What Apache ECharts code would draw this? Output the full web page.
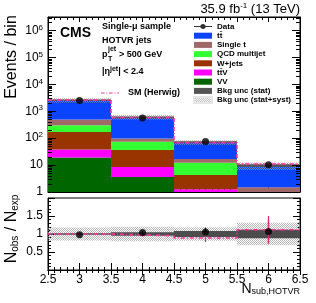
<!DOCTYPE html>
<html><head><meta charset="utf-8">
<script src="https://cdn.jsdelivr.net/npm/echarts@6/dist/echarts.min.js"></script>
<style>html,body{margin:0;padding:0;background:#fff}#c{width:316px;height:303px}</style>
</head><body><div id="c"></div><script>
// ---- data ----
const binCenters = [3, 4, 5, 6];
const binWidth = 1;
// stacked backgrounds, bottom -> top (events / bin)
const vv      = [19.3, 3.6, 0.6, 0.05];
const ttv     = [18.7, 4.9, 0.66, 0.1];
const wjets   = [133, 27.5, 3.0, 0.35];
const qcd     = [131, 38, 7.9, 0.5];
const singleT = [189, 23, 4.5, 0.5];
const ttbar   = [2069, 503, 54, 8.1];
const dataEvents = [2500, 560, 75, 10.3];
const herwig  = [2600, 585, 68, 11];
// relative background uncertainties
const statFrac = [0.015, 0.05, 0.08, 0.12];
const totFrac  = [0.18, 0.2, 0.19, 0.31];
// ratio panel
const ratioData = [0.98, 1.045, 1.055, 1.07];
const ratioDataErr = [0.02, 0.045, 0.12, 0.33];
const ratioHerwig = [1.0, 0.95, 0.89, 1.12];
const ratioHerwigErr = [0.02, 0.03, 0.11, 0.38];
const xTickLabels = ['2.5','3','3.5','4','4.5','5','5.5','6','6.5'];
const ratioTickLabels = ['0.5','1','1.5'];

const FONT = '"Liberation Sans", Arial, sans-serif';
const Y_MIN = 1, Y_MAX = Math.pow(10, 6.5);
const X_MIN = 2.5, X_MAX = 6.5;

// hatch pattern for the stat+syst band
const pc = document.createElement('canvas'); pc.width = 2; pc.height = 2;
const pg = pc.getContext('2d');
pg.fillStyle = 'rgba(160,160,160,0.75)'; pg.fillRect(0, 0, 1, 1); pg.fillRect(1, 1, 1, 1);
const hatch = {image: pc, repeat: 'repeat'};

const comps = [
  {name: 'VV', vals: vv, color: '#006600'},
  {name: 'tt\u0304V', vals: ttv, color: '#ff00ff'},
  {name: 'W+jets', vals: wjets, color: '#993300'},
  {name: 'QCD multijet', vals: qcd, color: '#33ff33'},
  {name: 'Single t', vals: singleT, color: '#a06868'},
  {name: 'tt\u0304', vals: ttbar, color: '#0a44ff'}
];

function rectRender(fill, clampMin) {
  return function (params, api) {
    let b = api.value(2), t = api.value(3);
    if (clampMin != null) { b = Math.max(b, clampMin); t = Math.max(t, clampMin); }
    const p1 = api.coord([api.value(0), t]);
    const p2 = api.coord([api.value(1), b]);
    return {type: 'rect', shape: {x: p1[0], y: p1[1], width: p2[0] - p1[0], height: p2[1] - p1[1]}, style: {fill: fill}};
  };
}
function thinRect(fill, minH) {
  return function (params, api) {
    const p1 = api.coord([api.value(0), api.value(3)]);
    const p2 = api.coord([api.value(1), api.value(2)]);
    const h = Math.max(p2[1] - p1[1], minH);
    const yc = (p1[1] + p2[1]) / 2;
    return {type: 'rect', shape: {x: p1[0], y: yc - h / 2, width: p2[0] - p1[0], height: h}, style: {fill: fill}};
  };
}

const series = [];
const cum = binCenters.map(() => 0);
comps.forEach(c => {
  const items = binCenters.map((x, i) => {
    const b = cum[i]; cum[i] += c.vals[i];
    return [x - binWidth / 2, x + binWidth / 2, b, cum[i]];
  });
  series.push({type: 'custom', name: c.name, xAxisIndex: 0, yAxisIndex: 0, itemStyle: {color: c.color},
    encode: {x: [0, 1], y: 3}, renderItem: rectRender(c.color, Y_MIN), data: items, clip: true, z: 2});
});
const total = cum.slice();
series.push({type: 'custom', name: 'Bkg unc (stat+syst)', xAxisIndex: 0, yAxisIndex: 0,
  itemStyle: {color: hatch, borderColor: '#e6e6e6', borderWidth: 0.5}, encode: {x: [0, 1], y: 3},
  renderItem: rectRender(hatch, Y_MIN),
  data: binCenters.map((x, i) => [x - binWidth / 2, x + binWidth / 2, total[i] * (1 - totFrac[i]), total[i] * (1 + totFrac[i])]), z: 3});
series.push({type: 'custom', name: 'Bkg unc (stat)', xAxisIndex: 0, yAxisIndex: 0,
  itemStyle: {color: '#555555'}, encode: {x: [0, 1], y: 3}, renderItem: thinRect('#555555', 1.6),
  data: binCenters.map((x, i) => [x - binWidth / 2, x + binWidth / 2, total[i] * (1 - statFrac[i]), total[i] * (1 + statFrac[i])]), z: 4});
const herwigPts = [];
binCenters.forEach((x, i) => { herwigPts.push([x - binWidth / 2, herwig[i]]); herwigPts.push([x + binWidth / 2, herwig[i]]); });
series.push({type: 'line', name: 'SM (Herwig)', xAxisIndex: 0, yAxisIndex: 0, data: herwigPts,
  symbol: 'none', lineStyle: {color: '#ff3399', width: 1.6, type: [4, 2, 1, 2]}, itemStyle: {color: '#ff3399'}, z: 5});
series.push({type: 'scatter', name: 'Data', xAxisIndex: 0, yAxisIndex: 0,
  data: binCenters.map((x, i) => [x, dataEvents[i]]), symbolSize: 7, itemStyle: {color: '#000'}, z: 6});

// log-axis tick marks (decoration on both sides)
const logTickVals = [];
for (let n = 0; n < 7; n++) for (let k = 1; k < 10; k++) { const v = k * Math.pow(10, n); if (v <= Y_MAX) logTickVals.push([X_MIN, v, k === 1 ? 1 : 0]); }
series.push({type: 'custom', xAxisIndex: 0, yAxisIndex: 0, silent: true, z: 10, encode: {x: 0, y: 1},
  renderItem: function (params, api) {
    const cs = params.coordSys;
    const y = Math.round(api.coord([X_MIN, api.value(1)])[1]) + 0.5;
    const L = api.value(2) ? 8 : 4;
    return {type: 'group', children: [
      {type: 'line', shape: {x1: cs.x, y1: y, x2: cs.x + L, y2: y}, style: {stroke: '#000', lineWidth: 1}},
      {type: 'line', shape: {x1: cs.x + cs.width - L, y1: y, x2: cs.x + cs.width, y2: y}, style: {stroke: '#000', lineWidth: 1}}
    ]};
  }, data: logTickVals});

// ---- ratio panel ----
series.push({type: 'custom', xAxisIndex: 2, yAxisIndex: 2, encode: {x: [0, 1], y: 3},
  renderItem: rectRender(hatch),
  data: binCenters.map((x, i) => [x - binWidth / 2, x + binWidth / 2, 1 - totFrac[i], 1 + totFrac[i]]), z: 2});
series.push({type: 'custom', xAxisIndex: 2, yAxisIndex: 2, encode: {x: [0, 1], y: 3}, renderItem: thinRect('#4d4d4d', 1.5),
  data: binCenters.map((x, i) => [x - binWidth / 2, x + binWidth / 2, 1 - statFrac[i], 1 + statFrac[i]]), z: 3});
function errRender(color, w) {
  return function (params, api) {
    const pTop = api.coord([api.value(0), api.value(1) + api.value(2)]);
    const pBot = api.coord([api.value(0), api.value(1) - api.value(2)]);
    return {type: 'line', shape: {x1: pTop[0], y1: pTop[1], x2: pBot[0], y2: pBot[1]}, style: {stroke: color, lineWidth: w}};
  };
}
series.push({type: 'custom', xAxisIndex: 2, yAxisIndex: 2, encode: {x: 0, y: 1}, renderItem: errRender('#000', 1.2),
  data: binCenters.map((x, i) => [x, ratioData[i], ratioDataErr[i]]), z: 4});
const herwigRatioPts = [];
binCenters.forEach((x, i) => { herwigRatioPts.push([x - binWidth / 2, ratioHerwig[i]]); herwigRatioPts.push([x + binWidth / 2, ratioHerwig[i]]); });
series.push({type: 'line', xAxisIndex: 2, yAxisIndex: 2, data: herwigRatioPts, symbol: 'none',
  lineStyle: {color: '#ff3399', width: 1.6, type: [4, 2, 1, 2]}, z: 5});
series.push({type: 'custom', xAxisIndex: 2, yAxisIndex: 2, encode: {x: 0, y: 1}, renderItem: errRender('#e0267a', 1.2),
  data: binCenters.map((x, i) => [x, ratioHerwig[i], ratioHerwigErr[i]]), z: 5});
series.push({type: 'scatter', xAxisIndex: 2, yAxisIndex: 2,
  data: binCenters.map((x, i) => [x, ratioData[i]]), symbolSize: 7, itemStyle: {color: '#000'}, z: 6});

const axisLine = {show: true, lineStyle: {color: '#000', width: 1}};
function xAx(grid, pos, labels) {
  return {type: 'value', gridIndex: grid, position: pos, min: X_MIN, max: X_MAX, interval: 0.5,
    axisLine: axisLine, splitLine: {show: false},
    axisTick: {show: true, inside: true, length: pos === 'bottom' ? 7 : 5, lineStyle: {color: '#000'}},
    minorTick: {show: true, splitNumber: 5, length: 3, lineStyle: {color: '#000'}},
    axisLabel: labels ? {show: true, margin: 4, color: '#000', fontFamily: FONT, fontSize: 12,
      formatter: v => xTickLabels.find(s => Math.abs(parseFloat(s) - v) < 1e-6) || ''} : {show: false}};
}
const supRich = {b: {fontSize: 12, fontFamily: FONT, color: '#000'}, s: {fontSize: 8, fontFamily: FONT, color: '#000', verticalAlign: 'top', padding: [0, 0, 6, 0]}};
const annot = {fontFamily: FONT, fontSize: 9, fontWeight: 'bold', fill: '#000'};

const option = {
  animation: false,
  backgroundColor: '#fff',
  grid: [
    {left: 48, right: 16, top: 17, height: 175, show: true, borderColor: '#000', borderWidth: 1},
    {left: 48, right: 16, top: 198, height: 72, show: true, borderColor: '#000', borderWidth: 1}
  ],
  xAxis: [xAx(0, 'bottom', false), xAx(0, 'top', false), xAx(1, 'bottom', true), xAx(1, 'top', false)],
  yAxis: [
    {type: 'log', gridIndex: 0, min: Y_MIN, max: Y_MAX, position: 'left', axisLine: axisLine,
      splitLine: {show: false}, axisTick: {show: false}, minorTick: {show: false},
      axisLabel: {margin: 5, color: '#000', fontFamily: FONT, fontSize: 12, rich: supRich,
        formatter: v => { const n = Math.round(Math.log10(v)); if (Math.abs(Math.log10(v) - n) > 1e-6) return ''; return n === 0 ? '{b|1}' : n === 1 ? '{b|10}' : '{b|10}{s|' + n + '}'; }}},
    {type: 'log', gridIndex: 0, min: Y_MIN, max: Y_MAX, position: 'right', axisLine: axisLine,
      splitLine: {show: false}, axisTick: {show: false}, axisLabel: {show: false}},
    {type: 'value', gridIndex: 1, min: 0, max: 2, interval: 0.5, position: 'left', axisLine: axisLine,
      splitLine: {show: false}, axisTick: {show: true, inside: true, length: 7, lineStyle: {color: '#000'}},
      minorTick: {show: true, splitNumber: 5, length: 3, lineStyle: {color: '#000'}},
      axisLabel: {margin: 5, color: '#000', fontFamily: FONT, fontSize: 12,
        formatter: v => ratioTickLabels.find(s => Math.abs(parseFloat(s) - v) < 1e-6) || ''}},
    {type: 'value', gridIndex: 1, min: 0, max: 2, interval: 0.5, position: 'right', axisLine: axisLine,
      splitLine: {show: false}, axisTick: {show: true, inside: true, length: 7, lineStyle: {color: '#000'}},
      minorTick: {show: true, splitNumber: 5, length: 3, lineStyle: {color: '#000'}}, axisLabel: {show: false}}
  ],
  legend: [
    {orient: 'vertical', left: 193, top: 22, padding: 0, itemWidth: 18, itemHeight: 6, itemGap: 0.2,
      textStyle: {fontFamily: FONT, fontSize: 8, fontWeight: 'bold', color: '#000', lineHeight: 9},
      selectedMode: false,
      data: [
        {name: 'Data', icon: 'path://M0,2.5H6.2A3,3 0 0 1 11.8,2.5H18V3.5H11.8A3,3 0 0 1 6.2,3.5H0Z'},
        {name: 'tt\u0304', icon: 'rect'}, {name: 'Single t', icon: 'rect'}, {name: 'QCD multijet', icon: 'rect'},
        {name: 'W+jets', icon: 'rect'}, {name: 'tt\u0304V', icon: 'rect'}, {name: 'VV', icon: 'rect'},
        {name: 'Bkg unc (stat)', icon: 'rect'}, {name: 'Bkg unc (stat+syst)', icon: 'rect'}
      ]},
    {orient: 'vertical', left: 101, top: 88, padding: 0, itemWidth: 18, itemHeight: 1.6, selectedMode: false,
      textStyle: {fontFamily: FONT, fontSize: 9, fontWeight: 'bold', color: '#000', lineHeight: 10, padding: [0, 0, 0, 4]},
      data: [{name: 'SM (Herwig)', icon: 'path://M0,0H4V1H0Z M6,0H7V1H6Z M9,0H13V1H9Z M15,0H16V1H15Z M18,0H20V1H18Z'}]}
  ],
  graphic: [
    {type: 'text', right: 16, top: 2, style: {text: '35.9 fb{s|-1} (13 TeV)', fontFamily: FONT, fontSize: 13, fill: '#000',
      rich: {s: {fontSize: 8, fontFamily: FONT, verticalAlign: 'top', padding: [0, 0, 7, 0]}}}},
    {type: 'text', left: 60, top: 26, style: {text: 'CMS', fontFamily: FONT, fontSize: 14, fontWeight: 'bold', fill: '#000'}},
    {type: 'text', left: 102, top: 22, style: Object.assign({text: 'Single-\u03bc sample'}, annot)},
    {type: 'text', left: 102, top: 36, style: Object.assign({text: 'HOTVR jets'}, annot)},
    {type: 'text', left: 102, top: 50, style: Object.assign({text: 'p'}, annot)},
    {type: 'text', left: 108, top: 56, style: Object.assign({}, annot, {text: 'T', fontSize: 7})},
    {type: 'text', left: 108, top: 46, style: Object.assign({}, annot, {text: 'jet', fontSize: 7})},
    {type: 'text', left: 119, top: 50, style: Object.assign({text: '> 500 GeV'}, annot)},
    {type: 'text', left: 102, top: 66, style: Object.assign({text: '|\u03b7{s|jet}| < 2.4',
      rich: {s: {fontSize: 7, fontWeight: 'bold', fontFamily: FONT, verticalAlign: 'top', padding: [0, 0, 5, 0]}}}, annot)},
    {type: 'text', x: 12, y: 57, rotation: Math.PI / 2, style: {text: 'Events / bin', fontFamily: FONT, fontSize: 16, fill: '#000', align: 'center', verticalAlign: 'middle'}},
    {type: 'text', x: 12, y: 229, rotation: Math.PI / 2, style: {text: 'N{s|obs} / N{s|exp}', fontFamily: FONT, fontSize: 16, fill: '#000', align: 'center', verticalAlign: 'middle',
      rich: {s: {fontSize: 10, fontFamily: FONT, verticalAlign: 'bottom', padding: [5, 0, 0, 0]}}}},
    {type: 'text', right: 16, top: 282, style: {text: 'N{s|sub,HOTVR}', fontFamily: FONT, fontSize: 14, fill: '#000',
      rich: {s: {fontSize: 9, fontFamily: FONT, verticalAlign: 'bottom', padding: [5, 0, 0, 0]}}}}
  ],
  series: series
};
const chart = echarts.init(document.getElementById('c'), null, {renderer: 'canvas'});
chart.setOption(option);
</script></body></html>
